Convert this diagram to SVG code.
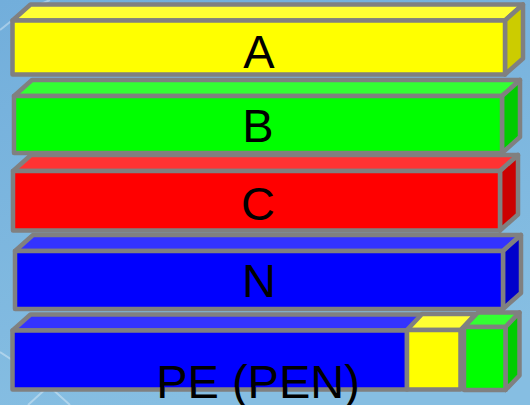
<svg xmlns="http://www.w3.org/2000/svg" width="530" height="405" viewBox="0 0 530 405">
  <defs>
    <linearGradient id="bg" x1="0" y1="0" x2="0.3" y2="1">
      <stop offset="0" stop-color="#72aedb"/>
      <stop offset="1" stop-color="#86bee2"/>
    </linearGradient>
  </defs>
  <style>
    .e { stroke: #808080; stroke-width: 4.5; stroke-linejoin: round; }
    .yf { fill: #ffff00; } .yt { fill: #ffff33; } .ys { fill: #cccc00; }
    .gf { fill: #00ff00; } .gt { fill: #33ff33; } .gs { fill: #00cc00; }
    .rf { fill: #ff0000; } .rt { fill: #ff3333; } .rs { fill: #cc0000; }
    .bf { fill: #0000ff; } .bt { fill: #3333ff; } .bs { fill: #0000cc; }
    .lbl { font-family: "Liberation Sans", Arial, sans-serif; font-size: 47px; fill: #000; text-anchor: middle; }
    .streak { stroke: #ffffff; stroke-opacity: 0.35; fill: none; stroke-width: 2; }
  </style>
  <rect x="0" y="0" width="530" height="405" fill="url(#bg)"/>
  <g id="background-streaks">
    <path class="streak" d="M0 30 Q20 12 50 0"/>
    <path class="streak" d="M0 352 L40 378 L70 405"/>
    <path class="streak" d="M28 405 L50 385"/>
  </g>

  <g id="bar-PE">
    <polygon class="e bt" points="12.5,330.5 30.5,314.5 423,314.5 407,330.5"/>
    <rect class="e bf" x="12.5" y="330.5" width="394.5" height="59"/>
    <polygon class="e yt" points="407,330 422,314 475.5,314 460.5,330"/>
    <rect class="e yf" x="407" y="330" width="53.5" height="59.5"/>
    <polygon class="e gt" points="464,327 478,312.5 519.5,312.5 505.5,327"/>
    <polygon class="e gs" points="505.5,327 519.5,312.5 519.5,375.5 505.5,390"/>
    <rect class="e gf" x="464" y="327" width="41.5" height="63"/>
    <text class="lbl" x="258" y="398">PE (PEN)</text>
  </g>

  <g id="bar-N">
    <polygon class="e bt" points="15,251 33,235 521,235 503,251"/>
    <polygon class="e bs" points="503,251 521,235 521,293 503,309"/>
    <rect class="e bf" x="15" y="251" width="488" height="58"/>
    <text class="lbl" x="259" y="297">N</text>
  </g>

  <g id="bar-C">
    <polygon class="e rt" points="13,171 31,155 518,155 500,171"/>
    <polygon class="e rs" points="500,171 518,155 518,214.5 500,230.5"/>
    <rect class="e rf" x="13" y="171" width="487" height="59.5"/>
    <text class="lbl" x="258" y="220">C</text>
  </g>

  <g id="bar-B">
    <polygon class="e gt" points="14,96 32,80 520,80 502,96"/>
    <polygon class="e gs" points="502,96 520,80 520,137 502,153"/>
    <rect class="e gf" x="14" y="96" width="488" height="57"/>
    <text class="lbl" x="258" y="142">B</text>
  </g>

  <g id="bar-A">
    <polygon class="e yt" points="12.5,20.5 30.5,4.5 523,4.5 505,20.5"/>
    <polygon class="e ys" points="505,20.5 523,4.5 523,58.5 505,74.5"/>
    <rect class="e yf" x="12.5" y="20.5" width="492.5" height="54"/>
    <text class="lbl" x="259" y="68">A</text>
  </g>
</svg>
